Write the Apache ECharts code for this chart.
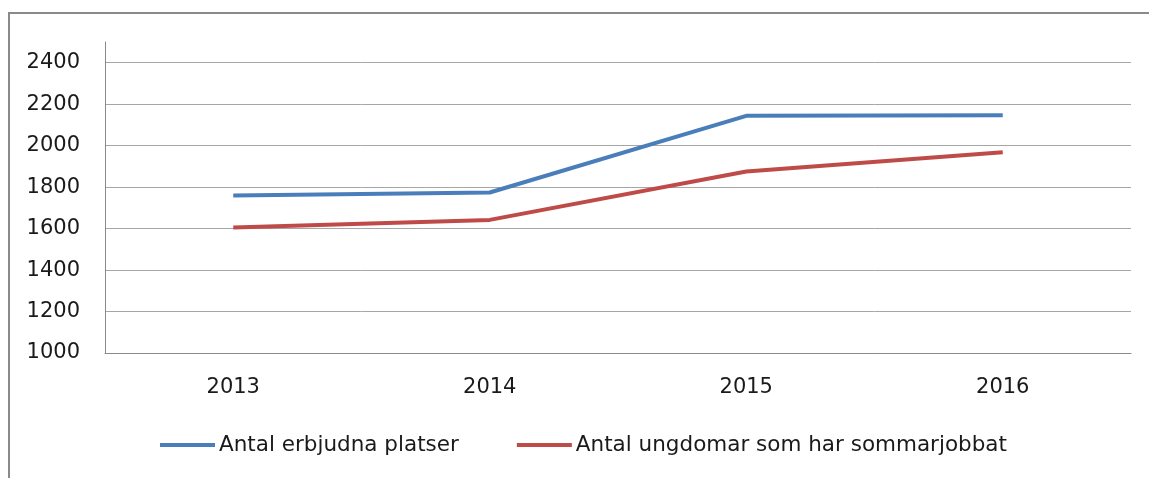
<!DOCTYPE html>
<html>
<head>
<meta charset="utf-8">
<script src="https://cdn.jsdelivr.net/npm/echarts@6/dist/echarts.min.js"></script>
<style>
  html, body { margin: 0; padding: 0; background: #fff; }
  #chart { width: 1149px; height: 478px; }
</style>
</head>
<body>
<div id="chart"></div>
<script>
  // data
  const years = ['2013', '2014', '2015', '2016']
  const erbjudnaPlatser = [1760, 1774, 2144, 2147]
  const ungdomarSommarjobb = [1605, 1642, 1875, 1968]
  const seriesNames = ['Antal erbjudna platser', 'Antal ungdomar som har sommarjobbat']

  const font = 'DejaVu Sans'
  const chart = echarts.init(document.getElementById('chart'))

  chart.setOption({
    animation: false,
    textStyle: { fontFamily: font },
    graphic: [
      {
        type: 'rect',
        shape: { x: 9, y: 13, width: 1300, height: 700 },
        style: { fill: 'none', stroke: '#8a8a8a', lineWidth: 2 },
        silent: true
      }
    ],
    grid: { left: 105, right: 18, top: 42, bottom: 125 },
    legend: {
      bottom: 17,
      left: 155,
      itemWidth: 55,
      itemHeight: 4,
      itemGap: 58,
      icon: 'rect',
      textStyle: { fontSize: 21.5, color: '#1a1a1a', fontFamily: font, padding: [0, 0, 0, -1] },
      data: seriesNames
    },
    xAxis: {
      type: 'category',
      data: years,
      boundaryGap: true,
      axisLine: { lineStyle: { color: '#8a8a8a', width: 1 } },
      axisTick: { show: false },
      axisLabel: { fontSize: 21, color: '#1a1a1a', margin: 24 }
    },
    yAxis: {
      type: 'value',
      min: 1000,
      max: 2500,
      interval: 200,
      axisLine: { show: true, lineStyle: { color: '#8a8a8a', width: 1 } },
      axisTick: { show: false },
      axisLabel: {
        fontSize: 21,
        color: '#1a1a1a',
        margin: 25,
        showMaxLabel: false,
        formatter: (v) => String(v)
      },
      splitLine: { showMaxLine: false, lineStyle: { color: '#a6a6a6', width: 1 } }
    },
    series: [
      {
        name: seriesNames[0],
        type: 'line',
        data: erbjudnaPlatser,
        symbol: 'none',
        lineStyle: { color: '#4a7ebb', width: 4 },
        itemStyle: { color: '#4a7ebb' }
      },
      {
        name: seriesNames[1],
        type: 'line',
        data: ungdomarSommarjobb,
        symbol: 'none',
        lineStyle: { color: '#be4b48', width: 4 },
        itemStyle: { color: '#be4b48' }
      }
    ]
  })
</script>
</body>
</html>
